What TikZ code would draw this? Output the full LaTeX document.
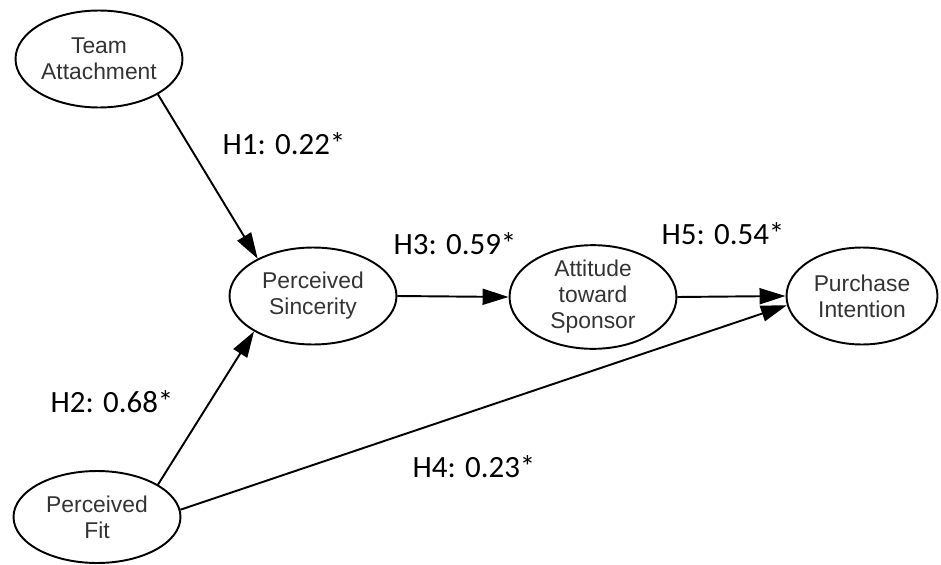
\documentclass[tikz,border=0pt]{standalone}
\usepackage{fontspec}
\setmainfont{Liberation Sans}
\newfontfamily\hfont{Carlito}
\usetikzlibrary{shapes.geometric}
\usetikzlibrary{arrows.meta}

\begin{document}
\begin{tikzpicture}[x=0.02cm,y=-0.02cm,
  latent/.style={draw,ellipse,line width=1.1pt,inner sep=0pt,
    minimum width=3.34cm,minimum height=1.94cm,align=center,
    text=black!80,font=\fontsize{13pt}{14.8pt}\selectfont},
  path/.style={line width=1.1pt,-{Triangle[length=0.52cm,width=0.32cm]}},
  coef/.style={font=\hfont\fontsize{17.6pt}{20pt}\selectfont}]
\useasboundingbox (0,0) rectangle (941,565);
\node[latent] (ta) at (99,59) {Team\\Attachment};
\node[latent] (ps) at (313,296) {Perceived\\Sincerity};
\node[latent] (ats) at (593,297) {Attitude\\toward\\Sponsor};
\node[latent,minimum width=3.02cm] (pi) at (862,296) {Purchase\\Intention};
\node[latent,minimum height=1.84cm] (pf) at (97,517) {Perceived\\Fit};
\draw[path] (ta.-31) -- (ps.146);
\draw[path] (pf.28) -- (ps.211);
\draw[path] (ps.east) -- (ats.west);
\draw[path] (ats.east) -- (pi.west);
\draw[path] (pf.5) -- (pi.187);
\node[coef] (h1) at (284,144) {H1: 0.22*};
\node[coef] (h2) at (112,402) {H2: 0.68*};
\node[coef] (h3) at (455,244) {H3: 0.59*};
\node[coef] (h4) at (474,467) {H4: 0.23*};
\node[coef] (h5) at (723,234) {H5: 0.54*};
\end{tikzpicture}
\end{document}
